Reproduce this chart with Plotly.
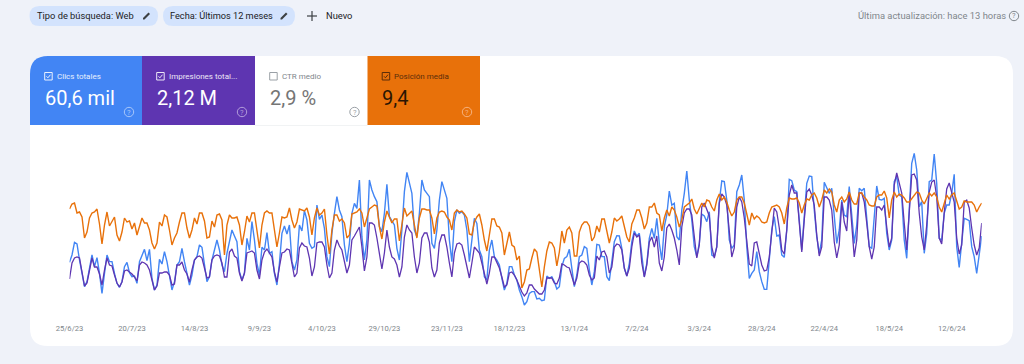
import pandas as pd
import plotly.graph_objects as go

W, H = 1024, 364
START_DATE = "2023-06-25"

tick_dates = ["2023-06-25","2023-07-20","2023-08-14","2023-09-09","2023-10-04","2023-10-29","2023-11-23",
              "2023-12-18","2024-01-13","2024-02-07","2024-03-03","2024-03-28","2024-04-22","2024-05-18","2024-06-12"]
tick_labels = ["25/6/23","20/7/23","14/8/23","9/9/23","4/10/23","29/10/23","23/11/23",
               "18/12/23","13/1/24","7/2/24","3/3/24","28/3/24","22/4/24","18/5/24","12/6/24"]

# Daily clicks
clicks = [
133,155,193,188,140,95,60,75,120,155,120,147,100,40,100,155,135,135,100,70,58,75,120,133,102,90,92,70,135,155,172,138,172,85,50,65,142,128,165,135,90,50,75,125,135,175,135,100,65,95,140,150,185,178,125,75,90,140,170,
200,170,125,105,160,195,230,212,195,105,80,100,205,170,255,200,130,95,178,170,222,160,165,100,65,130,220,242,218,245,135,110,140,245,227,288,260,190,175,180,305,262,275,235,150,120,220,280,330,290,270,185,135,190,280,310,295,380,210,140,200,380,
350,330,315,240,225,280,367,270,255,245,175,140,230,345,403,370,340,230,210,280,380,350,340,330,190,175,230,320,375,350,325,200,135,255,290,280,285,275,230,135,210,265,250,170,150,90,80,170,200,150,140,125,85,50,70,120,120,95,80,50,30,5,
15,40,45,45,23,25,18,20,92,85,90,75,53,60,120,145,150,172,115,60,95,150,155,180,175,110,65,105,187,185,150,150,90,78,135,195,213,212,175,115,92,130,195,227,212,220,155,90,130,205,235,205,265,190,140,240,275,347,305,310,210,200,
290,340,407,320,260,180,150,190,278,272,255,285,155,150,180,315,377,375,320,200,175,185,345,365,395,320,180,85,100,110,165,105,75,52,52,130,230,270,212,215,155,148,230,382,378,350,345,260,170,270,370,392,390,290,210,160,200,373,355,340,355,260,
190,230,320,275,270,360,270,190,245,355,348,355,265,180,175,270,362,322,320,325,220,170,200,375,390,335,330,200,145,290,430,460,410,300,315,160,220,375,380,458,370,205,200,280,305,305,340,397,180,118,200,265,262,258,180,150,100,150,212,
]

# Daily impressions, in hundreds
impressions_hundreds = [
36,52,57,58,57,42,29,32,45,57,48,48,41,30,45,57,50,49,40,32,28,33,44,45,43,41,38,34,50,53,52,50,45,35,25,29,42,42,43,43,40,30,31,50,50,53,45,41,33,45,55,58,59,57,48,37,38,55,59,
60,59,52,38,38,63,66,59,57,42,34,42,62,63,64,62,45,36,55,63,66,62,58,43,33,48,62,63,66,65,50,38,42,67,72,69,68,57,39,48,72,73,73,68,50,37,42,65,75,69,65,52,42,50,75,79,83,88,68,44,58,92,
92,90,77,62,46,62,85,68,58,56,50,38,48,78,90,85,82,58,42,52,77,82,82,73,47,38,45,72,80,80,68,52,38,62,71,72,70,60,48,37,52,68,65,62,52,40,31,42,58,58,53,47,38,28,30,42,43,40,35,28,23,19,
22,30,30,26,23,21,21,25,37,37,37,32,31,37,51,50,48,47,38,30,37,52,54,53,50,40,35,37,59,55,63,64,58,42,48,68,71,70,65,47,39,47,68,82,78,80,52,38,50,73,78,68,79,52,44,58,87,91,85,77,65,50,
88,102,106,106,100,75,57,70,108,112,106,99,68,57,68,112,121,118,110,80,58,67,108,118,113,97,72,51,49,72,73,63,50,44,45,58,85,107,103,87,65,61,85,120,130,122,122,88,63,95,123,126,120,110,80,59,68,118,118,115,105,73,
57,70,113,93,84,123,93,58,75,122,122,113,92,68,56,68,108,108,105,110,88,68,77,130,142,132,122,92,65,102,140,141,135,102,78,65,90,123,133,135,118,77,71,102,126,132,122,113,77,61,70,113,115,107,87,70,60,67,92,
]

# Daily average position
position = [
8.8,8.3,8.2,9.2,9.1,9.6,11.7,11.1,9.7,9.2,9.1,8.8,10.3,12.3,10.4,9.1,10.5,10,9.6,11.4,12,11.1,9.7,10.1,10,10.8,10.2,11.4,10.6,9.7,10.2,10.2,10.9,12.2,12.8,12.2,10.1,10.5,9.4,9.6,10.9,12.4,11.7,11.2,10.1,9.2,9.2,10.7,11.7,10.9,9.7,10.3,9.2,9.2,10,11.7,11.6,10,10.6,
9.4,9.3,9.9,13.4,10.4,9.4,9.7,9.7,9.6,10.4,12.4,11.1,9.5,10.1,9.2,9.2,11.2,12.7,10.4,9.2,9,9.2,9.2,11.1,12.6,11.2,9.6,9.7,9.6,8.7,9.9,10.7,10.1,8.8,8.9,9,8.7,9.6,11.4,9.7,8.7,9.4,9.2,8.8,11.4,13.3,10.9,9.4,9.4,10,9.8,10.2,11.7,11.4,9.3,9.2,9.1,8.8,9.2,10.6,9.6,8.8,
8.6,8.4,8.5,10.6,11.8,10.1,9,9.7,10.2,9.8,9.8,12,10.4,8.7,9.5,9.2,9,10.4,11.7,9.7,8.8,8.8,8.9,8.9,9.7,11.3,9.7,9.1,9,9.1,9.6,9.9,10.9,9.2,8.9,9.1,9,9.3,9.7,11.3,11.4,10.1,9.6,9.3,10.4,11.9,13,11.4,9.8,9.8,10.5,10.6,11.2,13.4,12.2,11.1,12.4,12.6,13.9,13.5,16.7,16.1,
14.9,14.8,13.7,12.8,13.1,14.9,16.6,14.6,13,12.1,12.2,12.7,14.5,13.1,11,12.2,10.9,10.6,11.2,13.5,13.5,11.1,10.4,10.1,10.1,10.5,12,11.6,10.5,11.1,9.8,9.8,11.2,12.2,11.1,9.7,10,9.8,9.5,10.7,11.6,12.1,10.3,9.7,8.9,8.9,9.7,10.8,10.2,8.6,8.6,8.2,9.2,9.4,11,9.7,8.9,9.5,8.6,8.9,9.6,10.6,
9.9,8.6,8.4,8.2,7.8,8.8,9.3,8.8,8.2,8.6,7.9,8,8.6,9,7.9,7.3,7.9,7.6,8.1,8.9,9.5,9.1,7.9,7.6,7.6,8.2,9.4,10.4,9.2,9.8,9.5,9.7,10.1,10.2,10.1,9.2,8.6,8.5,8.4,8.6,9.2,10.3,8.7,7.7,7.8,7.8,7.7,8.2,9.2,8.4,7.8,7.9,7.4,7.2,7.7,8.6,7.9,6.9,7.2,6.8,7.1,8.4,
9.1,7.9,7.6,8.1,7.8,7.1,7.9,8.3,8.3,7.2,7.2,7.6,7.9,8.4,8.5,8.5,7.6,7.4,7.4,7,7.7,9.7,7.9,7.1,7.6,7.3,7.4,7.7,8.1,8.1,7.8,7.4,7.1,7.2,7.9,8.3,7.7,7.2,7.5,7.2,7.6,8.6,9.1,8.2,7.4,7.8,7.4,7.2,7.9,8.8,8.6,8,8.1,8.1,8.1,8.4,9.1,8.6,8.2,
]

BG = "#eff2f9"
BLUE, PURPLE, ORANGE = "#4285f4", "#5e35b1", "#e8710a"
GREY = "#80868b"
FONT = "Roboto, sans-serif"

def px(x): return x / W
def py(y): return 1 - y / H

def dates(series):
    return pd.date_range(START_DATE, periods=len(series), freq="D")

fig = go.Figure()
fig.add_trace(go.Scatter(x=dates(position), y=position, yaxis="y3", mode="lines", name="Posición media",
                         line=dict(color=ORANGE, width=1.4), hoverinfo="skip"))
fig.add_trace(go.Scatter(x=dates(clicks), y=clicks, yaxis="y", mode="lines", name="Clics totales",
                         line=dict(color=BLUE, width=1.4), hoverinfo="skip"))
fig.add_trace(go.Scatter(x=dates(impressions_hundreds), y=impressions_hundreds, yaxis="y2", mode="lines",
                         name="Impresiones totales", line=dict(color=PURPLE, width=1.3), hoverinfo="skip"))

shapes, ann = [], []

def path(d, fill=None, color=None, width=1, layer="below"):
    shapes.append(dict(type="path", path=d, xref="paper", yref="paper", fillcolor=fill,
                       line=dict(color=color or "rgba(0,0,0,0)", width=width), layer=layer))

def round_rect(x0, y0, x1, y1, rtl=0, rtr=0, rbr=0, rbl=0):
    """Rectangle path in paper coordinates, given in page pixels; each corner approximated by a quadratic."""
    def P(x, y): return f"{px(x):.5f},{py(y):.5f}"
    return (f"M{P(x0+rtl,y0)} L{P(x1-rtr,y0)} Q{P(x1,y0)} {P(x1,y0+rtr)} L{P(x1,y1-rbr)} Q{P(x1,y1)} {P(x1-rbr,y1)} "
            f"L{P(x0+rbl,y1)} Q{P(x0,y1)} {P(x0,y1-rbl)} L{P(x0,y0+rtl)} Q{P(x0,y0)} {P(x0+rtl,y0)} Z")

def poly(points):
    return "M" + " L".join(f"{px(x):.5f},{py(y):.5f}" for x, y in points)

def text(x, y, s, size, color, anchor="left", family=FONT):
    ann.append(dict(x=px(x), y=py(y), xref="paper", yref="paper", text=s, showarrow=False,
                    xanchor=anchor, yanchor="middle", font=dict(size=size, color=color, family=family),
                    align=anchor, borderpad=0, borderwidth=0))

def circle(cx, cy, r, color, width=1):
    shapes.append(dict(type="circle", xref="paper", yref="paper", x0=px(cx-r), x1=px(cx+r), y0=py(cy+r), y1=py(cy-r),
                       line=dict(color=color, width=width), fillcolor="rgba(0,0,0,0)", layer="above"))

def help_icon(cx, cy, color):
    circle(cx, cy, 4.7, color)
    text(cx, cy, "?", 7.5, color, anchor="center")

def pencil(cx, cy, color="#3c4043"):
    path(poly([(cx-3.5, cy+3.5), (cx-3.5, cy+2), (cx+2, cy-3.5), (cx+3.5, cy-2), (cx-2, cy+3.5)]) + " Z", fill=color, layer="above")

def checkbox(x, y, color, checked=True):
    shapes.append(dict(type="rect", xref="paper", yref="paper", x0=px(x), x1=px(x+7.5), y0=py(y+7.5), y1=py(y),
                       line=dict(color=color, width=1), fillcolor="rgba(0,0,0,0)", layer="above"))
    if checked:
        path(poly([(x+1.8, y+3.8), (x+3.2, y+5.3), (x+5.8, y+2.2)]), color=color, width=1, layer="above")

# Card
path(round_rect(30, 56, 1013, 346, 18, 18, 18, 18), fill="white")

# Metric tabs
tabs = [
    (30, 142, BLUE, "Clics totales", "60,6 mil", "#e8f0fe", "white", "#a8c7fa", True),
    (142, 255, PURPLE, "Impresiones total...", "2,12 M", "#ece7f6", "white", "#b39ddb", True),
    (255, 367.5, "white", "CTR medio", "2,9 %", "#80868b", "#757575", "#9aa0a6", False),
    (367.5, 480, ORANGE, "Posición media", "9,4", "#5a2d0a", "#2a1503", "#f6b27e", True),
]
for i, (x0, x1, fill, title, value, c_title, c_value, c_help, checked) in enumerate(tabs):
    path(round_rect(x0, 56, x1, 125, rtl=18 if i == 0 else 0), fill=fill)
    checkbox(x0 + 14.7, 72.5, c_help if not checked else c_title, checked)
    text(x0 + 26.5, 76, title, 8, c_title)
    text(x0 + 14.5, 98, value, 20, c_value)
    help_icon(x1 - 13, 112, c_help)
path(poly([(255, 125.5), (367.5, 125.5)]), color="#f1f3f4", width=1)

# Filter chips
path(round_rect(29.5, 6, 158, 26, 10, 10, 10, 10), fill="#d3e3fd")
path(round_rect(163, 6, 295, 26, 10, 10, 10, 10), fill="#d3e3fd")
text(37, 16, "Tipo de búsqueda: Web", 9.3, "#202124")
pencil(146.5, 16)
text(170, 16, "Fecha: Últimos 12 meses", 9.2, "#202124")
pencil(284, 16)
path(poly([(307, 16), (317, 16)]), color="#3c4043", width=1.2, layer="above")
path(poly([(312, 11), (312, 21)]), color="#3c4043", width=1.2, layer="above")
text(325.5, 16, "Nuevo", 9.3, "#202124")
text(1006, 16, "Última actualización: hace 13 horas", 9.4, GREY, anchor="right")
help_icon(1014, 16, GREY)

fig.update_layout(
    width=W, height=H, margin=dict(l=0, r=0, t=0, b=0, pad=0, autoexpand=False), autosize=False,
    paper_bgcolor=BG, plot_bgcolor="rgba(0,0,0,0)", showlegend=False,
    shapes=shapes, annotations=ann, hovermode=False,
    font=dict(family=FONT),
    xaxis=dict(type="date", domain=[px(69.5), px(981.7)], range=["2023-06-25", "2024-06-24"],
               tickmode="array", tickvals=tick_dates, ticktext=tick_labels, showgrid=False, zeroline=False,
               showline=False, ticks="outside", ticklen=5.5, tickcolor="rgba(0,0,0,0)",
               tickfont=dict(size=7.6, color=GREY, family=FONT), anchor="y"),
    yaxis=dict(domain=[py(315), py(150)], range=[-25, 470], visible=False),
    yaxis2=dict(overlaying="y", range=[0, 165], visible=False),
    yaxis3=dict(overlaying="y", range=[19.4, 2.9], visible=False),
)

fig.write_html("out.html", config={"displayModeBar": False},
               post_script="document.body.style.margin='0';document.body.style.overflow='hidden';")
